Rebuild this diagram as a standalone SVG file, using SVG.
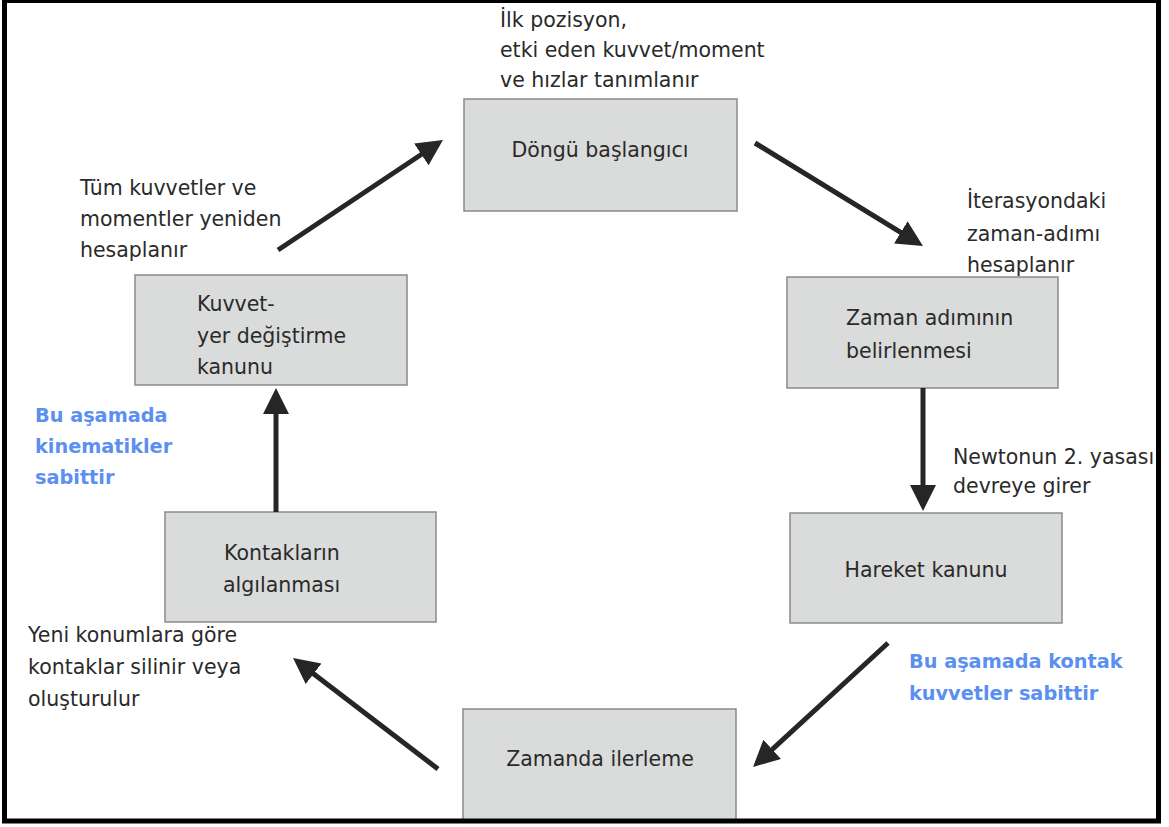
<svg xmlns="http://www.w3.org/2000/svg" width="1169" height="827" viewBox="0 0 1169 827">
  <defs>
    <style>
      .box { fill: #dadbdb; stroke: #8a8a8a; stroke-width: 1.5; }
      .t { font-family: "DejaVu Sans", "Open Sans", sans-serif; font-size: 20.5px; fill: #2a2a2a; }
      .c { text-anchor: middle; }
      .note { font-family: "DejaVu Sans", "Open Sans", sans-serif; font-size: 20.5px; fill: #2a2a2a; }
      .blue { font-family: "DejaVu Sans", "Open Sans", sans-serif; font-size: 19.3px; font-weight: bold; fill: #5b8ff0; }
      .arrow { stroke: #262626; stroke-width: 5; fill: none; marker-end: url(#head); }
    </style>
    <marker id="head" markerUnits="userSpaceOnUse" markerWidth="28" markerHeight="28" refX="8" refY="13" orient="auto">
      <path d="M0,0 L26,13 L0,26 z" fill="#262626"/>
    </marker>
  </defs>

  <rect x="0" y="0" width="1169" height="827" fill="#ffffff"/>

  <!-- process steps -->
  <g id="dongu-baslangici">
    <rect class="box" x="464" y="99" width="273" height="112"/>
    <text class="t c" x="600" y="157">Döngü başlangıcı</text>
  </g>
  <g id="zaman-adimi">
    <rect class="box" x="787" y="277" width="271" height="111"/>
    <text class="t" x="846" y="325">Zaman adımının</text>
    <text class="t" x="846" y="358">belirlenmesi</text>
  </g>
  <g id="hareket-kanunu">
    <rect class="box" x="790" y="513" width="272" height="110"/>
    <text class="t c" x="926" y="577">Hareket kanunu</text>
  </g>
  <g id="zamanda-ilerleme">
    <rect class="box" x="463" y="709" width="273" height="120"/>
    <text class="t c" x="600" y="766">Zamanda ilerleme</text>
  </g>
  <g id="kontak-algilama">
    <rect class="box" x="165" y="512" width="271" height="110"/>
    <text class="t" x="224" y="560">Kontakların</text>
    <text class="t" x="223" y="592">algılanması</text>
  </g>
  <g id="kuvvet-yer-degistirme">
    <rect class="box" x="135" y="275" width="272" height="110"/>
    <text class="t" x="197" y="311">Kuvvet-</text>
    <text class="t" x="197" y="343">yer değiştirme</text>
    <text class="t" x="197" y="374">kanunu</text>
  </g>

  <!-- flow arrows -->
  <g id="connectors">
    <line class="arrow" x1="278" y1="250" x2="428" y2="150"/>
    <line class="arrow" x1="755" y1="143" x2="907.6" y2="236.6"/>
    <line class="arrow" x1="923" y1="388" x2="923" y2="493"/>
    <line class="arrow" x1="888" y1="643" x2="766.3" y2="754.8"/>
    <line class="arrow" x1="438" y1="769" x2="307.3" y2="668.9"/>
    <line class="arrow" x1="276" y1="512" x2="276" y2="406"/>
  </g>

  <!-- annotations -->
  <g id="notes">
    <text class="note" x="500" y="27">İlk pozisyon,</text>
    <text class="note" x="500" y="57">etki eden kuvvet/moment</text>
    <text class="note" x="500" y="87">ve hızlar tanımlanır</text>

    <text class="note" x="967" y="208">İterasyondaki</text>
    <text class="note" x="967" y="241">zaman-adımı</text>
    <text class="note" x="967" y="272">hesaplanır</text>

    <text class="note" x="953" y="464">Newtonun 2. yasası</text>
    <text class="note" x="953" y="493">devreye girer</text>

    <text class="blue" x="909" y="668">Bu aşamada kontak</text>
    <text class="blue" x="909" y="700">kuvvetler sabittir</text>

    <text class="note" x="28" y="642">Yeni konumlara göre</text>
    <text class="note" x="28" y="674">kontaklar silinir veya</text>
    <text class="note" x="28" y="706">oluşturulur</text>

    <text class="blue" x="35" y="422">Bu aşamada</text>
    <text class="blue" x="35" y="453">kinematikler</text>
    <text class="blue" x="35" y="484">sabittir</text>

    <text class="note" x="80" y="195">Tüm kuvvetler ve</text>
    <text class="note" x="80" y="226">momentler yeniden</text>
    <text class="note" x="80" y="257">hesaplanır</text>
  </g>

  <!-- outer frame -->
  <rect x="0" y="821" width="1169" height="6" fill="#ffffff"/>
  <rect x="1159" y="0" width="10" height="827" fill="#ffffff"/>
  <rect x="4.5" y="0.5" width="1154" height="820.5" fill="none" stroke="#000000" stroke-width="5"/>
</svg>
